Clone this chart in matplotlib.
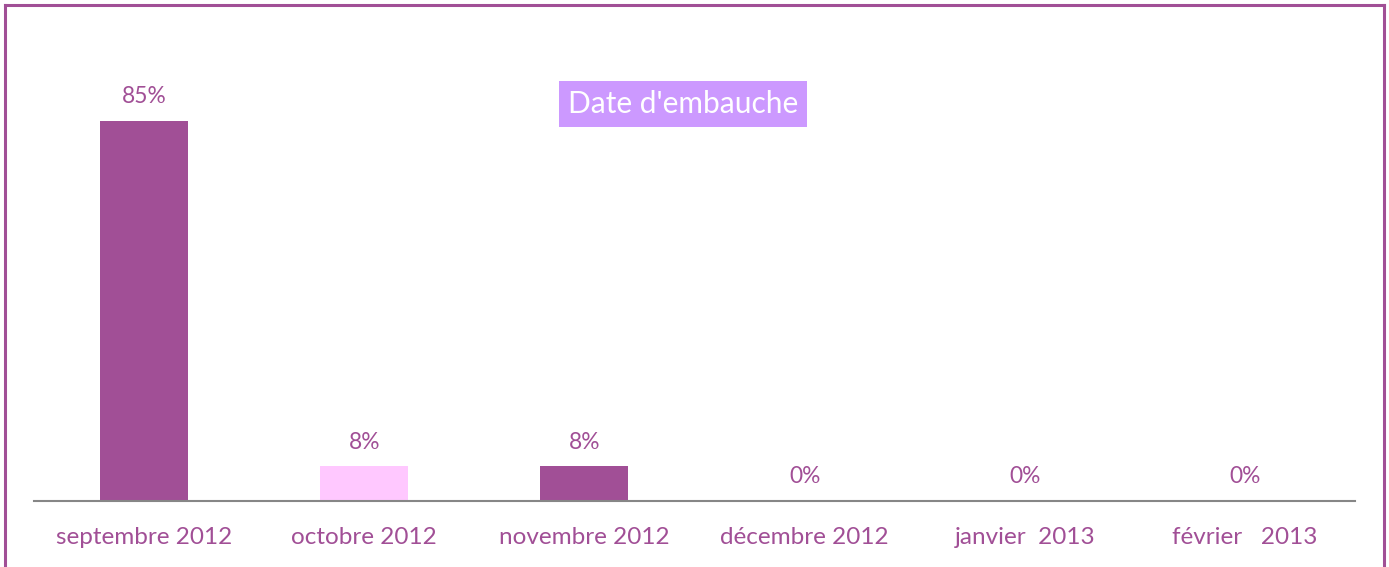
import matplotlib
matplotlib.use('Agg')
import matplotlib.pyplot as plt
from matplotlib.lines import Line2D

months = ['septembre 2012', 'octobre 2012', 'novembre 2012',
          'décembre 2012', 'janvier  2013', 'février   2013']
share = [84.6, 7.7, 7.7, 0, 0, 0]
bar_colors = ['#A14F96', '#FFC8FF', '#A14F96', '#A14F96', '#A14F96', '#A14F96']

text_color = '#A14F96'
plt.rcParams['font.family'] = ['Lato', 'DejaVu Sans']

W, H = 1389, 567
fig = plt.figure(figsize=(W / 100, H / 100), dpi=100)
# axes: x from 34 to 1355 px, baseline at y=501, 100% at y=52
ax = fig.add_axes([34 / W, (H - 501) / H, (1355 - 34) / W, (501 - 52) / H])

x = range(len(months))
ax.bar(x, share, width=0.4, color=bar_colors)
for i, v in enumerate(share):
    ax.annotate('%d%%' % round(v), (i, v), xytext=(0, 10), textcoords='offset points',
                ha='center', va='bottom', color=text_color, fontsize=16.4)

ax.set_xlim(-0.5, len(months) - 0.5)
ax.set_ylim(0, 100)
ax.set_xticks(list(x))
ax.set_xticklabels(months, color=text_color, fontsize=17.5)
ax.tick_params(axis='x', length=0, pad=19)
ax.set_yticks([])
for s in ['top', 'right', 'left']:
    ax.spines[s].set_visible(False)
ax.spines['bottom'].set_color('#868686')
ax.spines['bottom'].set_linewidth(1.5)

fig.text(683 / W, 1 - 104 / H, "Date d'embauche", ha='center', va='center',
         color='white', fontsize=21.5,
         bbox=dict(boxstyle='square,pad=0.3', facecolor='#CC99FF', edgecolor='none'))

# frame around the chart (no bottom edge visible)
border = '#A14F96'
fig.add_artist(Line2D([5 / W, 5 / W], [0, 1 - 5 / H], color=border, lw=2.2))
fig.add_artist(Line2D([5 / W, 1384 / W], [1 - 5 / H, 1 - 5 / H], color=border, lw=2.2))
fig.add_artist(Line2D([1384 / W, 1384 / W], [0, 1 - 5 / H], color=border, lw=2.2))

plt.savefig('out.png', dpi=100)
